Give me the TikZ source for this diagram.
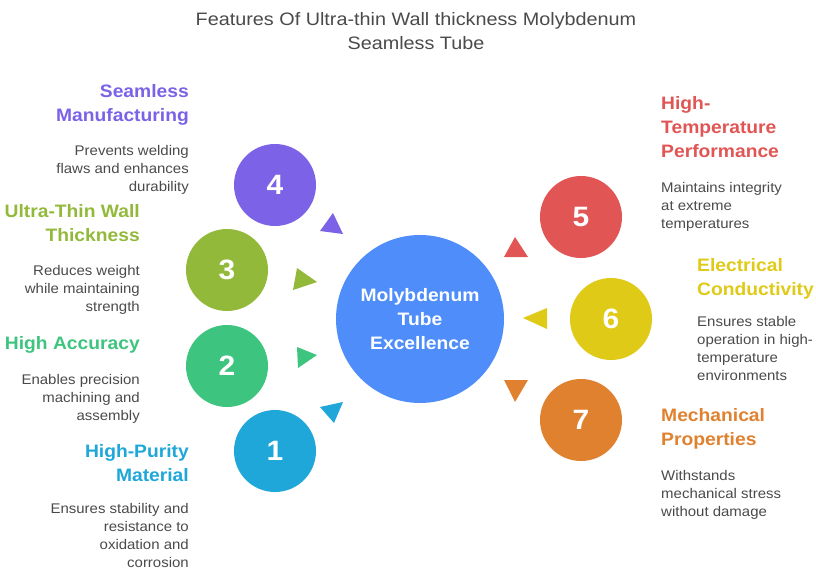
\documentclass[tikz,border=0pt]{standalone}
\usepackage{fontspec}
\setmainfont[FakeStretch=1.07]{Liberation Sans}
\newfontfamily\titlefont[FakeStretch=1.1]{Liberation Sans}

\definecolor{featpurple}{HTML}{7B62E6}
\definecolor{featolive}{HTML}{93B93B}
\definecolor{featgreen}{HTML}{3DC47E}
\definecolor{featblue}{HTML}{1EA7D8}
\definecolor{featred}{HTML}{E15554}
\definecolor{featyellow}{HTML}{E0CA18}
\definecolor{featorange}{HTML}{E0812F}
\definecolor{corebluefill}{HTML}{4F8EFA}
\definecolor{descgray}{HTML}{4A4A4A}

\tikzset{
  bubble/.style={circle, fill=#1, minimum size=82pt, inner sep=0pt,
    text=white, font=\fontsize{28}{30}\selectfont\bfseries},
  headtext/.style={text=#1, inner sep=0pt,
    font=\fontsize{18}{24}\selectfont\bfseries},
  desctext/.style={text=descgray, inner sep=0pt,
    font=\fontsize{14}{18}\selectfont},
}

% name, x, y, colour, number
\newcommand{\featbubble}[5]{
    \node[bubble=#4] (#1) at (#2,#3) {#5};
}
% three corners, colour
\newcommand{\pointer}[4]{
    \fill[#4] #1 -- #2 -- #3 -- cycle;
}
% name, x, y head, y text, colour, head, text
\newcommand{\leftlabel}[7]{
    \node[headtext=#5, anchor=north east, align=right] (#1-head) at (#2,#3) {#6};
    \node[desctext, anchor=north east, align=right] (#1-desc) at (#2,#4) {#7};
}
\newcommand{\rightlabel}[7]{
    \node[headtext=#5, anchor=north west, align=left] (#1-head) at (#2,#3) {#6};
    \node[desctext, anchor=north west, align=left] (#1-desc) at (#2,#4) {#7};
}

\begin{document}
\begin{tikzpicture}[x=1pt, y=-1pt]

  \useasboundingbox (0,0) rectangle (816,583);

  \node[text=descgray, inner sep=0pt, anchor=north, align=center,
    font=\fontsize{18}{24}\titlefont] (title) at (416,12)
    {Features Of Ultra-thin Wall thickness Molybdenum\\Seamless Tube};

  \node[circle, fill=corebluefill, minimum size=168pt, inner sep=0pt,
    text=white, align=center, font=\fontsize{18}{24}\selectfont\bfseries]
    (core) at (420,319) {Molybdenum\\Tube\\Excellence};

  % left side
  \featbubble{purity}{275}{451}{featblue}{1}
  \featbubble{accuracy}{227}{366}{featgreen}{2}
  \featbubble{thin}{227}{270}{featolive}{3}
  \featbubble{seamless}{275}{185}{featpurple}{4}

  \pointer{(320,407)}{(343,402)}{(334,423)}{featblue}
  \pointer{(297,347)}{(298,368)}{(317,355)}{featgreen}
  \pointer{(297,268)}{(293,290)}{(317,282)}{featolive}
  \pointer{(333,213)}{(320,231)}{(343,234)}{featpurple}

  % right side
  \featbubble{temp}{581}{217}{featred}{5}
  \featbubble{elec}{611}{319}{featyellow}{6}
  \featbubble{mech}{581}{420}{featorange}{7}

  \pointer{(515,237)}{(504,257)}{(528,257)}{featred}
  \pointer{(523,318)}{(547,308)}{(547,329)}{featyellow}
  \pointer{(504,380)}{(528,380)}{(515,402)}{featorange}

  % labels
  \leftlabel{seamless}{189}{84}{145}{featpurple}
    {Seamless\\Manufacturing}{Prevents welding\\flaws and enhances\\durability}
  \leftlabel{thin}{140}{204}{265}{featolive}
    {Ultra-Thin Wall\\Thickness}{Reduces weight\\while maintaining\\strength}
  \leftlabel{accuracy}{140}{336}{374}{featgreen}
    {High Accuracy}{Enables precision\\machining and\\assembly}
  \leftlabel{purity}{189}{444}{503}{featblue}
    {High-Purity\\Material}{Ensures stability and\\resistance to\\oxidation and\\corrosion}

  \rightlabel{temp}{661}{96}{182}{featred}
    {High-\\Temperature\\Performance}{Maintains integrity\\at extreme\\temperatures}
  \rightlabel{elec}{697}{258}{316}{featyellow}
    {Electrical\\Conductivity}{Ensures stable\\operation in high-\\temperature\\environments}
  \rightlabel{mech}{661}{408}{470}{featorange}
    {Mechanical\\Properties}{Withstands\\mechanical stress\\without damage}

\end{tikzpicture}
\end{document}
